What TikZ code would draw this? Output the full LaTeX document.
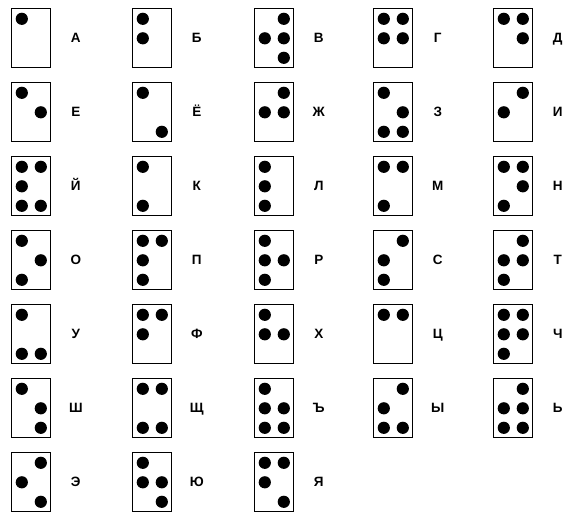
\documentclass[tikz,border=0pt]{standalone}
\usepackage{fontspec}
\setmainfont{Liberation Sans}
\newcommand\braillecell[5]{% name, x, y, dots, letter
  \node[cellbox] (#1) at (#2,#3) {};
  \foreach \d in {#4} {
    \pgfmathsetmacro\dx{\d<4 ? 10 : 29}
    \pgfmathsetmacro\dy{mod(\d-1,3)*19.5+10}
    \node[brdot] (#1-\d) at ([shift={(\dx,\dy)}]#1.north west) {};
  }
  \node[letter] (#1-l) at ([shift={(64,34)}]#1.north west) {#5};
}
\begin{document}
\begin{tikzpicture}[x=1pt,y=-1pt,
  cellbox/.style={draw=black,line width=1.2pt,minimum width=39pt,minimum height=59pt,anchor=north west,inner sep=0pt,outer sep=0pt},
  brdot/.style={circle,fill=black,draw=none,minimum size=12.2pt,inner sep=0pt},
  letter/.style={font=\fontsize{13.5}{16}\selectfont\bfseries,inner sep=0pt,anchor=base}]
\fill[white] (0,0) rectangle (582,525);
\useasboundingbox (0,0) rectangle (582,525);
% row 1
\braillecell{a}{11.8}{8.8}{1}{А}
\braillecell{b}{132.8}{8.8}{1,2}{Б}
\braillecell{v}{254.8}{8.8}{2,4,5,6}{В}
\braillecell{g}{373.8}{8.8}{1,2,4,5}{Г}
\braillecell{d}{493.8}{8.8}{1,4,5}{Д}
% row 2
\braillecell{e}{11.8}{82.8}{1,5}{Е}
\braillecell{yo}{132.8}{82.8}{1,6}{Ё}
\braillecell{zh}{254.8}{82.8}{2,4,5}{Ж}
\braillecell{z}{373.8}{82.8}{1,3,5,6}{З}
\braillecell{i}{493.8}{82.8}{2,4}{И}
% row 3
\braillecell{jj}{11.8}{156.8}{1,2,3,4,6}{Й}
\braillecell{k}{132.8}{156.8}{1,3}{К}
\braillecell{l}{254.8}{156.8}{1,2,3}{Л}
\braillecell{m}{373.8}{156.8}{1,3,4}{М}
\braillecell{n}{493.8}{156.8}{1,3,4,5}{Н}
% row 4
\braillecell{o}{11.8}{230.8}{1,3,5}{О}
\braillecell{p}{132.8}{230.8}{1,2,3,4}{П}
\braillecell{r}{254.8}{230.8}{1,2,3,5}{Р}
\braillecell{s}{373.8}{230.8}{2,3,4}{С}
\braillecell{t}{493.8}{230.8}{2,3,4,5}{Т}
% row 5
\braillecell{u}{11.8}{304.8}{1,3,6}{У}
\braillecell{f}{132.8}{304.8}{1,2,4}{Ф}
\braillecell{h}{254.8}{304.8}{1,2,5}{Х}
\braillecell{c}{373.8}{304.8}{1,4}{Ц}
\braillecell{ch}{493.8}{304.8}{1,2,3,4,5}{Ч}
% row 6
\braillecell{sh}{11.8}{378.8}{1,5,6}{Ш}
\braillecell{shch}{132.8}{378.8}{1,3,4,6}{Щ}
\braillecell{hard}{254.8}{378.8}{1,2,3,5,6}{Ъ}
\braillecell{y}{373.8}{378.8}{2,3,4,6}{Ы}
\braillecell{soft}{493.8}{378.8}{2,3,4,5,6}{Ь}
% row 7
\braillecell{ee}{11.8}{452.8}{2,4,6}{Э}
\braillecell{yu}{132.8}{452.8}{1,2,5,6}{Ю}
\braillecell{ya}{254.8}{452.8}{1,2,4,6}{Я}
\end{tikzpicture}
\end{document}
